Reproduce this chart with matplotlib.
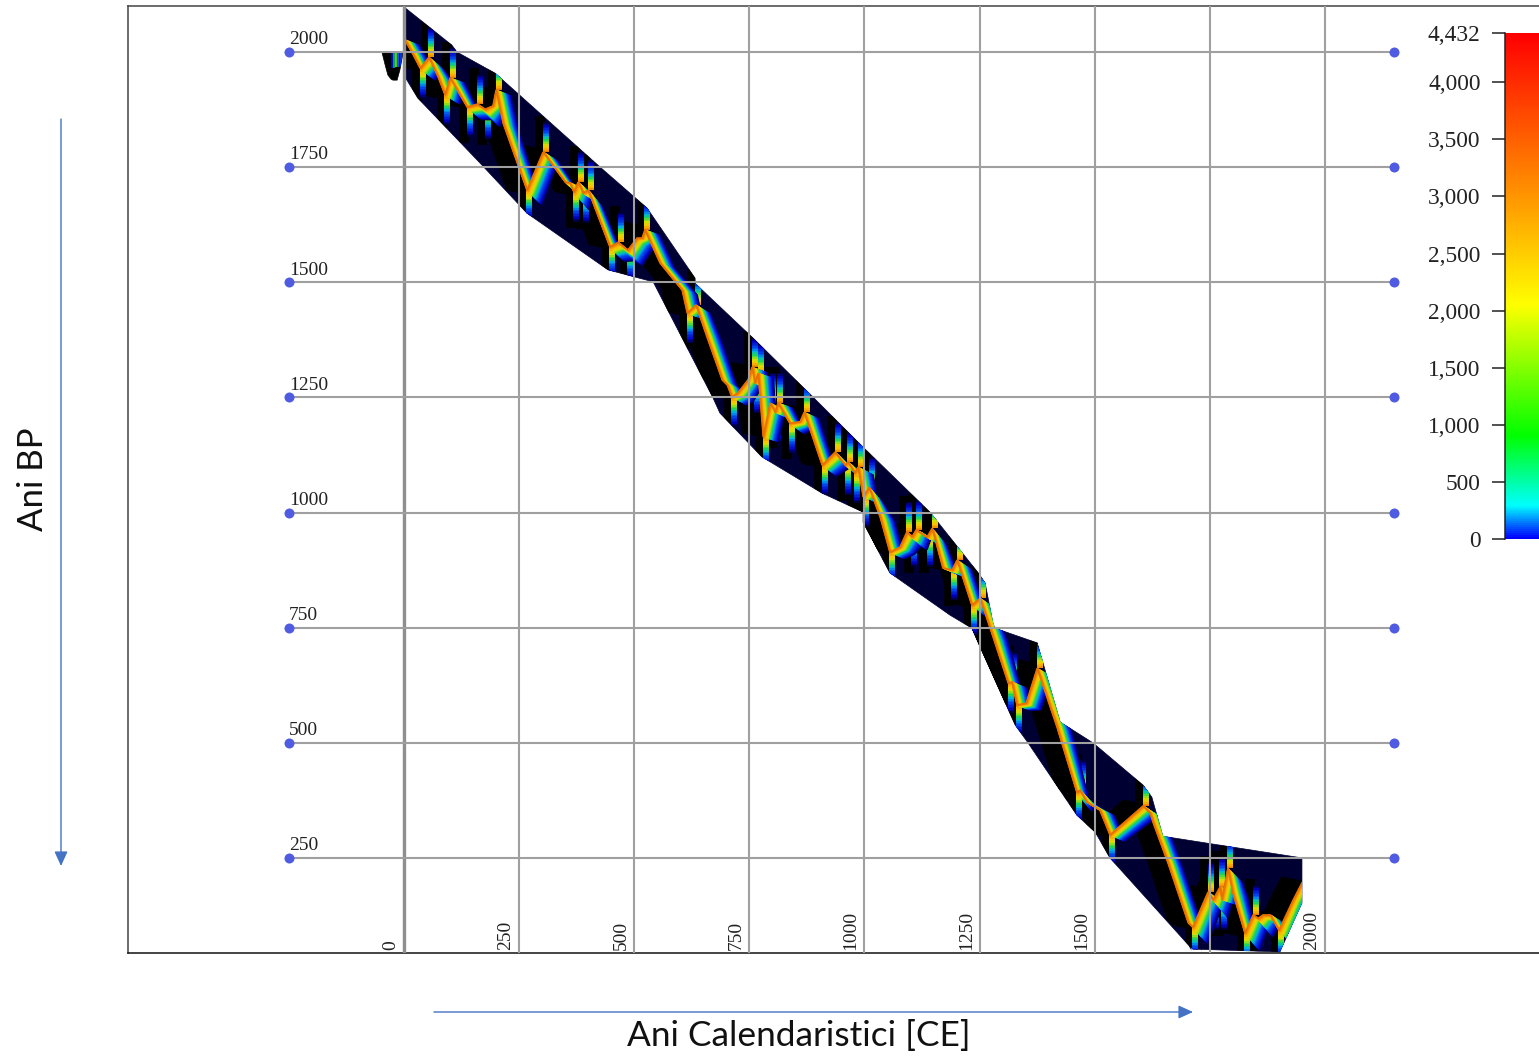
import numpy as np
import matplotlib
matplotlib.use("Agg")
import matplotlib.pyplot as plt
from matplotlib.colors import LinearSegmentedColormap
from matplotlib.patches import Polygon, FancyArrowPatch

# ---------- data ----------
RIDGE_CE = [2, 20, 35, 54, 74, 89, 100, 137, 159, 176, 193, 200, 215, 267, 302, 350, 360, 369, 378, 389, 400,
            447, 465, 486, 506, 517, 523, 556, 604, 615, 634, 658, 691, 702, 712, 725, 747, 756, 762, 769,
            780, 795, 806, 812, 838, 860, 869, 908, 936, 958, 964, 979, 986, 997, 1010, 1034, 1055, 1077,
            1092, 1103, 1112, 1136, 1147, 1170, 1190, 1201, 1233, 1251, 1279, 1312, 1320, 1331, 1351, 1375,
            1418, 1461, 1468, 1483, 1511, 1533, 1605, 1620, 1627, 1659, 1703, 1713, 1746, 1757, 1772, 1776,
            1789, 1800, 1826, 1844, 1855, 1865, 1881, 1900, 1931, 1950]
RIDGE_BP = [2026, 1994, 1965, 1989, 1946, 1907, 1944, 1881, 1887, 1876, 1883, 1918, 1846, 1700, 1783, 1718, 1716,
            1696, 1718, 1694, 1700, 1577, 1587, 1570, 1596, 1596, 1614, 1542, 1483, 1433, 1451, 1381, 1288,
            1277, 1251, 1260, 1288, 1316, 1281, 1303, 1164, 1238, 1218, 1238, 1194, 1197, 1218, 1103, 1131,
            1103, 1110, 1086, 1099, 1034, 1055, 990, 914, 925, 958, 947, 962, 947, 966, 880, 875, 897, 799,
            814, 730, 630, 632, 582, 586, 662, 534, 393, 397, 371, 354, 300, 363, 348, 326, 239, 109, 100,
            176, 159, 187, 159, 228, 174, 87, 126, 119, 126, 126, 93, 159, 196]

ENVELOPE_CE = [0, 104, 115, 198, 426, 528, 632, 632, 762, 888, 997, 1142, 1247, 1262, 1279, 1283, 1375, 1425,
               1496, 1605, 1624, 1648, 1950, 1950, 1902, 1713, 1707, 1533, 1501, 1461, 1355, 1327, 1251, 1233,
               1186, 1055, 997, 997, 908, 777, 686, 671, 541, 443, 267, 165, 30, 2]
ENVELOPE_BP = [2098, 2015, 2000, 1954, 1750, 1661, 1509, 1498, 1375, 1251, 1142, 1001, 869, 847, 760, 749, 717,
               545, 500, 408, 382, 297, 250, 152, 46, 52, 57, 250, 306, 343, 500, 539, 708, 749, 777, 869, 979,
               1001, 1042, 1121, 1216, 1249, 1501, 1527, 1650, 1759, 1900, 1946]

BLOB_CE = [-48, -41, -35, -28, -24, -15, -9, -2]
BLOB_BP = [2000, 1972, 1950, 1941, 1939, 1939, 1961, 1998]

X_TICKS = [0, 250, 500, 750, 1000, 1250, 1500, 1750, 2000]
X_TICK_LABELS = ["0", "250", "500", "750", "1000", "1250", "1500", "1750", "2000"]
Y_TICKS = [2000, 1750, 1500, 1250, 1000, 750, 500, 250]
CBAR_TICKS = [0, 500, 1000, 1500, 2000, 2500, 3000, 3500, 4000, 4432]
CBAR_MAX = 4432

# ---------- layout ----------
W, H = 1539, 1056
PX = 2.1716  # data units per pixel
SERIF = "Liberation Serif"
plt.rcParams["font.family"] = "Lato"

fig = plt.figure(figsize=(W / 100, H / 100), dpi=100, facecolor="white")
ax = fig.add_axes([128 / W, 1 - 953 / H, (W - 128) / W, (953 - 6) / H])
ax.set_xlim(-599.4, (W - 404) * PX)
ax.set_ylim(43.5, 2100)
ax.set_xticks([])
ax.set_yticks([])
ax.spines["right"].set_visible(False)
ax.spines["left"].set_color("#444444")
ax.spines["top"].set_color("#444444")
ax.spines["bottom"].set_color("#111111")
for s in ax.spines.values():
    s.set_linewidth(1.1)

heat = LinearSegmentedColormap.from_list(
    "heat",
    [(0, "#0000ff"), (285 / CBAR_MAX, "#00ffff"), (900 / CBAR_MAX, "#00ff00"), (2050 / CBAR_MAX, "#ffff00"),
     (3000 / CBAR_MAX, "#ff9600"), (1, "#ff0000")],
)
band = LinearSegmentedColormap.from_list(
    "band",
    [(0, "#000040"), (0.12, "#0000c8"), (0.34, "#0050f0"), (0.46, "#00b0e0"), (0.58, "#20d850"),
     (0.72, "#d0e000"), (0.84, "#ffc000"), (1, "#e87000")],
)

rx = np.array(RIDGE_CE, float)
ry = np.array(RIDGE_BP, float)

env = Polygon(np.column_stack([ENVELOPE_CE, ENVELOPE_BP]), closed=True, fc="#000033", ec="#000033", lw=0.5, zorder=2)
ax.add_patch(env)

# black shadow to the lower left of the ridge
for k in np.linspace(1, 20, 30):
    l, = ax.plot(rx - k * PX, ry + 0.2 * k * PX, color="black", lw=2.5, zorder=3, solid_joinstyle="miter")
    l.set_clip_path(env)

# extremes of the ridge get thin vertical streaks
d = np.diff(ry)
imax = [i for i in range(1, len(ry) - 1) if d[i - 1] > 0 and d[i] < 0]
imin = [i for i in range(1, len(ry) - 1) if d[i - 1] < 0 and d[i] > 0]
STREAK = 30 * PX
OFFS = 2.5 * PX
vl = ax.vlines(rx[imax] - 3 * PX, ry[imax], ry[imax] + 1.2 * STREAK, color="black", lw=7, zorder=3.5)
vl.set_clip_path(env)
vl = ax.vlines(rx[imin] - 3 * PX, ry[imin], ry[imin] - 1.2 * STREAK, color="black", lw=7, zorder=3.5)
vl.set_clip_path(env)
for f in np.linspace(1, 0.02, 20):
    c = band(1 - f)
    vl = ax.vlines(rx[imax] + OFFS, ry[imax], ry[imax] + f * STREAK, color=c, lw=4.2, zorder=4)
    vl.set_clip_path(env)
    vl = ax.vlines(rx[imin] + OFFS, ry[imin], ry[imin] - f * STREAK, color=c, lw=4.2, zorder=4)
    vl.set_clip_path(env)

# rainbow band: the ridge swept towards lower right, blue far away, orange on the ridge;
# flat stretches sweep further down than steep ones
g = np.abs(np.gradient(ry, rx))
oy = (5 + 15 * np.exp(-g / 0.7)) * PX
ox = 15 * PX
N = 40
for f in np.linspace(1, 0, N):
    l, = ax.plot(rx + f * ox, ry - f * oy, color=band(1 - f), lw=1.1, zorder=5, solid_joinstyle="miter")
    l.set_clip_path(env)

# small blob left of year 0
blob = Polygon(np.column_stack([BLOB_CE, BLOB_BP]), closed=True, fc="black", ec="black", lw=0.5, zorder=2)
ax.add_patch(blob)
for i, c in zip([-27, -22, -17, -12, -7], ["#0000c0", "#00a060", "#60d000", "#0060f0", "#0030e0"]):
    vl = ax.vlines(i, 1965 + (i + 27) * 0.2, 2000, color=c, lw=1.6, zorder=3)
    vl.set_clip_path(blob)

# grid
GRID = "#a0a0a0"
ax.vlines(X_TICKS, 43.5, 2100, color=GRID, lw=1.5, zorder=6)
ax.vlines([0], 43.5, 2100, color="#8f8f8f", lw=2.4, zorder=6)
ax.hlines(Y_TICKS, -250, 2150, color=GRID, lw=1.5, zorder=6)
ax.scatter([-250] * len(Y_TICKS), Y_TICKS, s=52, color="#4f5be0", zorder=7, linewidths=0)
ax.scatter([2150] * len(Y_TICKS), Y_TICKS, s=52, color="#4f5be0", zorder=7, linewidths=0)

for v in Y_TICKS:
    ax.annotate(str(v), (-250, v), xytext=(0, 2.7), textcoords="offset points", family=SERIF, fontsize=14,
                ha="left", va="bottom", color="#222222", zorder=8)
for v, s in zip(X_TICKS, X_TICK_LABELS):
    # the 1750 label sits behind the density field
    ax.annotate(s, (v, 43.5), xytext=(-3.5, 2.5), textcoords="offset points", family=SERIF, fontsize=14,
                rotation=90, ha="right", va="bottom", color="#222222", zorder=8 if v != 1750 else 1.5)

# colour bar
cax = fig.add_axes([1505 / W, 1 - 539 / H, (W - 1505) / W, (539 - 33) / H])
grad = np.linspace(0, CBAR_MAX, 512).reshape(-1, 1)
cax.imshow(grad, origin="lower", aspect="auto", cmap=heat, extent=[0, 1, 0, CBAR_MAX], vmin=0, vmax=CBAR_MAX)
cax.set_xticks([])
cax.set_yticks(CBAR_TICKS)
cax.set_yticklabels([f"{v:,}" for v in CBAR_TICKS], family=SERIF, fontsize=16.8, color="#222222")
cax.tick_params(axis="y", length=9.5, width=1.1, pad=8, color="#222222")
for side in ["top", "right", "bottom"]:
    cax.spines[side].set_visible(False)
cax.spines["left"].set_linewidth(1.1)
cax.spines["left"].set_color("#222222")

# annotation arrows and titles (figure pixels)
def fx(p):
    return p / W

def fy(p):
    return 1 - p / H

ARROW = "#4472c4"
for a, b in [((61, 119), (61, 866)), ((434, 1012), (1193, 1012))]:
    fig.add_artist(FancyArrowPatch((fx(a[0]), fy(a[1])), (fx(b[0]), fy(b[1])), transform=fig.transFigure,
                                   arrowstyle="-|>,head_length=0.55,head_width=0.25", mutation_scale=16,
                                   shrinkA=0, shrinkB=0, color=ARROW, lw=1.0))
fig.text(fx(798.5), fy(1036), "Ani Calendaristici [CE]", fontsize=25.4, ha="center", va="center", color="#111111")
fig.text(fx(33), fy(479), "Ani BP", fontsize=25, rotation=90, ha="center", va="center", color="#111111")

fig.savefig("out.png", dpi=100)
